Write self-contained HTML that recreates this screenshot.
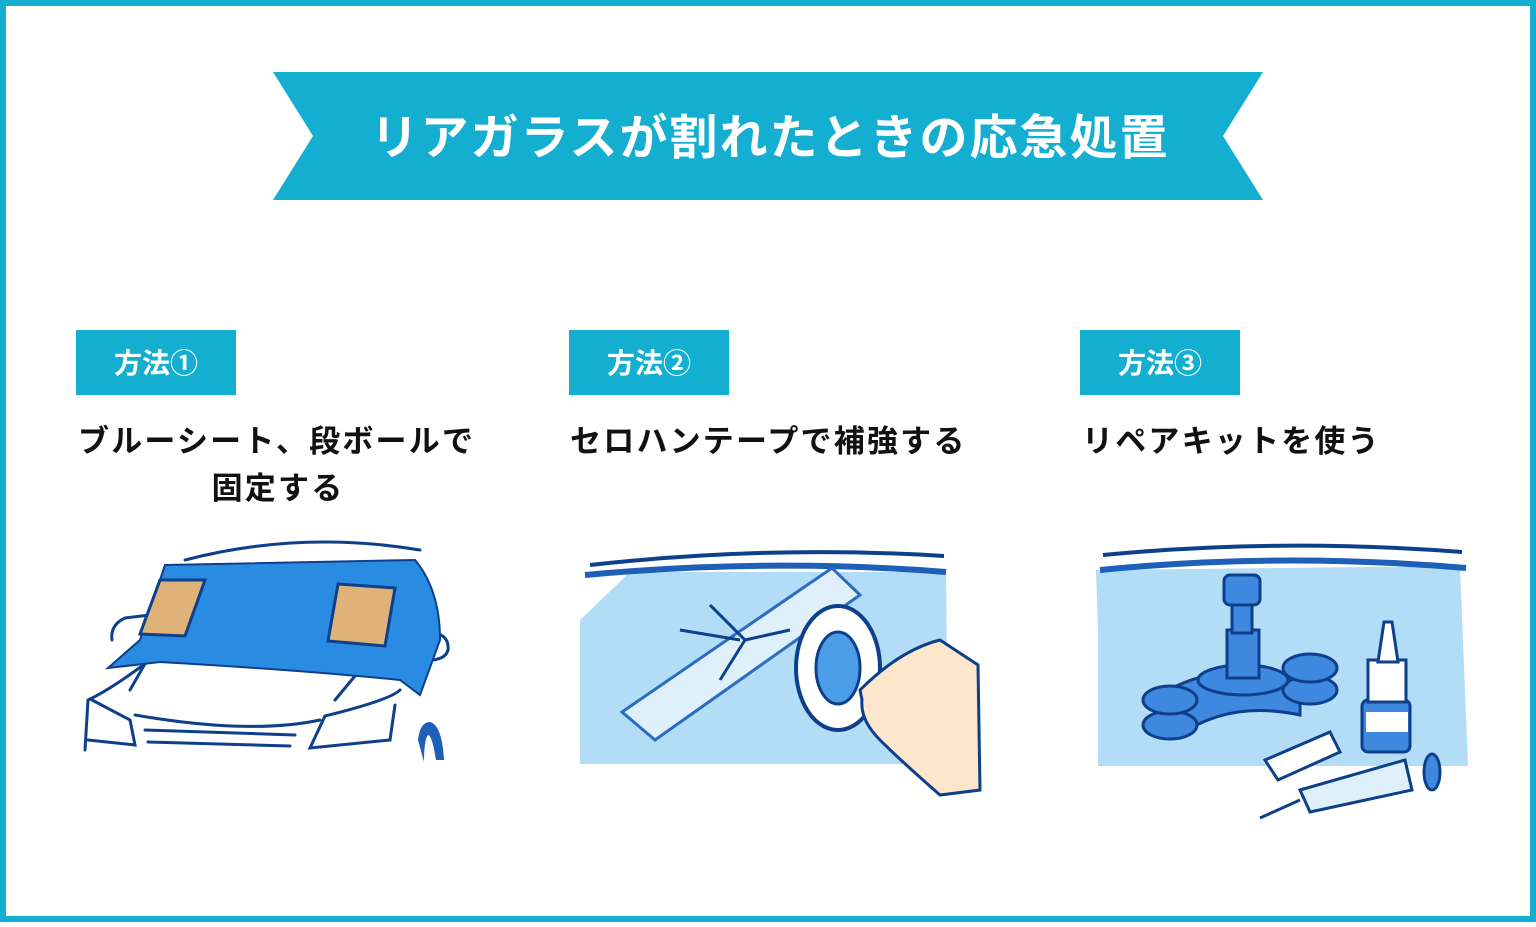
<!DOCTYPE html>
<html><head><meta charset="utf-8"><style>
body{margin:0}
svg text{font-family:"Liberation Sans","Noto Sans CJK JP",sans-serif;font-weight:bold}
</style></head><body>
<svg width="1536" height="922" viewBox="0 0 1536 922" xmlns="http://www.w3.org/2000/svg">
<rect x="3" y="3" width="1530" height="916" fill="#fff" stroke="#14afd0" stroke-width="6"/>
<polygon points="273,72 1263,72 1223,136 1263,200 273,200 313,136" fill="#14afd0"/>
<text x="770" y="154" font-size="48" fill="#fff" text-anchor="middle" letter-spacing="2">リアガラスが割れたときの応急処置</text>

<rect x="76" y="330" width="160" height="65" fill="#14afd0"/>
<text x="156" y="373" font-size="28" fill="#fff" text-anchor="middle">方法①</text>
<rect x="569" y="330" width="160" height="65" fill="#14afd0"/>
<text x="649" y="373" font-size="28" fill="#fff" text-anchor="middle">方法②</text>
<rect x="1080" y="330" width="160" height="65" fill="#14afd0"/>
<text x="1160" y="373" font-size="28" fill="#fff" text-anchor="middle">方法③</text>

<g font-size="31" fill="#111" letter-spacing="2.2">
<text x="78" y="452">ブルーシート、段ボールで</text>
<text x="278" y="499" text-anchor="middle">固定する</text>
<text x="570" y="452">セロハンテープで補強する</text>
<text x="1082" y="452">リペアキットを使う</text>
</g>

<!-- panel 1: car -->
<g fill="none" stroke="#0d3f8a" stroke-width="3" stroke-linecap="round">
<path d="M185,560 Q300,530 420,550"/>
<path d="M112,640 Q110,625 125,618 L150,615"/>
<path d="M420,632 Q450,630 448,650 Q445,662 420,660"/>
<path d="M150,660 Q110,690 88,700 L85,750"/>
<path d="M92,700 L130,720 L135,745 L88,740"/>
<path d="M400,690 Q390,700 325,716 L310,748 L390,740 L395,705"/>
<path d="M135,715 Q250,735 320,720"/>
<path d="M145,730 L295,735"/>
<path d="M148,742 L290,746"/>
<path d="M130,690 L150,655"/>
<path d="M335,700 L360,670"/>
</g>
<path d="M165,565 L415,560 Q440,590 440,640 L420,695 L400,680 Q300,670 160,662 L108,668 L140,640 Z" fill="#2a8be3" stroke="#0d3f8a" stroke-width="2"/>
<polygon points="160,580 205,580 185,636 140,634" fill="#dfb27a" stroke="#0d3f8a" stroke-width="3"/>
<polygon points="338,584 395,588 385,646 328,641" fill="#dfb27a" stroke="#0d3f8a" stroke-width="3"/>
<path d="M418,740 Q420,722 430,722 Q442,725 444,760 L436,760 Q432,735 428,735 Q424,740 424,762 Z" fill="#1e5fb8"/>

<!-- panel 2: tape -->
<path d="M580,620 L630,572 L946,572 L948,764 L580,764 Z" fill="#b3ddf6"/>
<path d="M590,565 Q770,545 944,556" stroke="#0d3f8a" stroke-width="4" fill="none"/>
<path d="M585,575 Q770,558 946,572" stroke="#1e5fb8" stroke-width="6" fill="none"/>
<polygon points="622,712 832,568 860,595 655,740" fill="#dff0fb" stroke="#2a6cc0" stroke-width="3"/>
<path d="M680,630 L740,640 M710,605 L745,640 M745,640 L720,680 M745,640 L790,630" stroke="#0d3f8a" stroke-width="3"/>
<ellipse cx="838" cy="668" rx="42" ry="62" fill="#fff" stroke="#0d3f8a" stroke-width="4"/>
<ellipse cx="838" cy="668" rx="22" ry="36" fill="#4d9ee8" stroke="#0d3f8a" stroke-width="3"/>
<path d="M860,690 Q900,650 940,640 L978,665 L980,790 L940,795 Q900,760 880,740 Q860,720 862,700 Z" fill="#fde6cc" stroke="#0d3f8a" stroke-width="3"/>

<!-- panel 3: kit -->
<path d="M1096,570 L1460,566 L1468,766 L1098,766 L1098,630 Z" fill="#b3ddf6"/>
<path d="M1103,555 Q1280,538 1462,552" stroke="#0d3f8a" stroke-width="4" fill="none"/>
<path d="M1100,570 Q1280,552 1466,568" stroke="#1e5fb8" stroke-width="6" fill="none"/>
<g stroke="#0d3f8a" stroke-width="3" fill="#3f88df">
<path d="M1150,700 Q1230,650 1300,690 L1300,715 Q1230,700 1180,735 Z"/>
<ellipse cx="1170" cy="725" rx="27" ry="14"/>
<ellipse cx="1170" cy="700" rx="27" ry="14"/>
<ellipse cx="1310" cy="690" rx="27" ry="14"/>
<ellipse cx="1310" cy="668" rx="27" ry="14"/>
<ellipse cx="1243" cy="680" rx="45" ry="15"/>
<rect x="1227" y="630" width="32" height="48"/>
<rect x="1232" y="605" width="20" height="28"/>
<rect x="1224" y="575" width="36" height="30" rx="6"/>
<rect x="1362" y="700" width="48" height="52" rx="6"/>
<rect x="1368" y="660" width="38" height="42" fill="#fff"/>
<polygon points="1378,662 1384,622 1392,622 1398,662" fill="#fff"/>
<polygon points="1265,760 1330,732 1340,752 1278,780" fill="#fff"/>
<polygon points="1300,790 1405,760 1412,790 1310,812" fill="#dff0fb"/>
<ellipse cx="1432" cy="772" rx="8" ry="18"/>
</g>
<rect x="1366" y="712" width="42" height="20" fill="#fff"/>
<path d="M1260,818 L1300,800" stroke="#0d3f8a" stroke-width="3"/>
</svg>
</body></html>
